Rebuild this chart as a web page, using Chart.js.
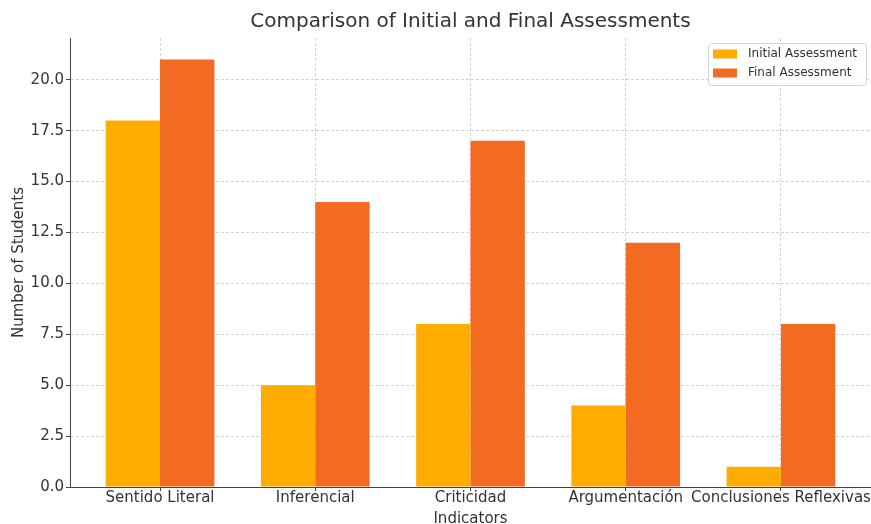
<!DOCTYPE html>
<html>
<head>
<meta charset="utf-8">
<script src="https://cdn.jsdelivr.net/npm/chart.js@4"></script>
<style>
  html, body { margin: 0; padding: 0; background: #fff; }
  #wrap { width: 871px; height: 524px; }
</style>
</head>
<body>
<div id="wrap"><canvas id="chart-area"></canvas></div>
<script>
var categories = ['Sentido Literal', 'Inferencial', 'Criticidad', 'Argumentación', 'Conclusiones Reflexivas'];
var initialValues = [18, 5, 8, 4, 1];
var finalValues = [21, 14, 17, 12, 8];
var seriesNames = ['Initial Assessment', 'Final Assessment'];
var seriesColors = ['#FFAC00', '#F36A23'];

var FONT = "'DejaVu Sans', sans-serif";
var TEXT = '#333';

function points(values) {
  return values.map(function (v, i) { return { x: i, y: v }; });
}

// legend drawn inside the plot, top right, like the original
var boxLegend = {
  id: 'boxLegend',
  afterDraw: function (chart) {
    var ctx = chart.ctx;
    var x = 708, y = 43, w = 158, h = 42;
    ctx.save();
    ctx.fillStyle = 'rgba(255,255,255,0.85)';
    ctx.strokeStyle = '#d5d5d5';
    ctx.lineWidth = 1;
    ctx.beginPath();
    ctx.roundRect(x + 0.5, y + 0.5, w, h, 3);
    ctx.fill();
    ctx.stroke();
    ctx.font = '12px ' + FONT;
    ctx.textBaseline = 'middle';
    chart.data.datasets.forEach(function (ds, i) {
      var cy = y + 11 + i * 19;
      ctx.fillStyle = ds.backgroundColor;
      ctx.fillRect(x + 5, cy - 4.5, 24, 9);
      ctx.fillStyle = TEXT;
      ctx.fillText(ds.label, x + 40, cy);
    });
    ctx.restore();
  }
};

var gridOpts = {
  color: '#d2d2d2',
  tickColor: '#444',
  tickBorderDash: [],
  tickLength: 4,
  offset: false
};
var borderOpts = { display: true, color: '#444', width: 1, dash: [3, 2] };

var config = {
  type: 'bar',
  data: {
    datasets: [{
      label: seriesNames[0],
      data: points(initialValues),
      backgroundColor: seriesColors[0],
      barPercentage: 1,
      categoryPercentage: 0.7
    }, {
      label: seriesNames[1],
      data: points(finalValues),
      backgroundColor: seriesColors[1],
      barPercentage: 1,
      categoryPercentage: 0.7
    }]
  },
  options: {
    responsive: true,
    maintainAspectRatio: false,
    animation: false,
    layout: { padding: { left: 10, right: 0, top: 0, bottom: 0 } },
    plugins: {
      legend: { display: false },
      tooltip: { enabled: false },
      title: {
        display: true,
        fullSize: false,
        text: 'Comparison of Initial and Final Assessments',
        color: TEXT,
        font: { family: FONT, size: 20, weight: 'normal' },
        padding: { top: 10, bottom: 4 }
      }
    },
    scales: {
      x: {
        type: 'linear',
        offset: false,
        min: -0.58,
        max: 4.58,
        z: 1,
        afterBuildTicks: function (axis) {
          axis.ticks = categories.map(function (c, i) { return { value: i }; });
        },
        afterFit: function (s) { s.height = 37; },
        ticks: {
          color: TEXT,
          font: { family: FONT, size: 15 },
          padding: -2,
          maxRotation: 0,
          autoSkip: false,
          callback: function (v) { return categories[v]; }
        },
        grid: gridOpts,
        border: borderOpts,
        title: {
          display: true,
          text: 'Indicators',
          color: TEXT,
          font: { family: FONT, size: 15 },
          padding: { top: 0, bottom: -4 }
        }
      },
      y: {
        min: 0,
        max: 22.05,
        z: 1,
        afterFit: function (s) { s.width = 60; },
        ticks: {
          stepSize: 2.5,
          includeBounds: false,
          color: TEXT,
          font: { family: FONT, size: 15 },
          padding: 2,
          callback: function (v) { return v.toFixed(1); }
        },
        grid: gridOpts,
        border: borderOpts,
        title: {
          display: true,
          text: 'Number of Students',
          color: TEXT,
          font: { family: FONT, size: 15 },
          padding: { top: 0, bottom: 0 }
        }
      }
    }
  },
  plugins: [boxLegend]
};

window.onload = function () {
  var ctx = document.getElementById('chart-area').getContext('2d');
  window.myBar = new Chart(ctx, config);
};
</script>
</body>
</html>
